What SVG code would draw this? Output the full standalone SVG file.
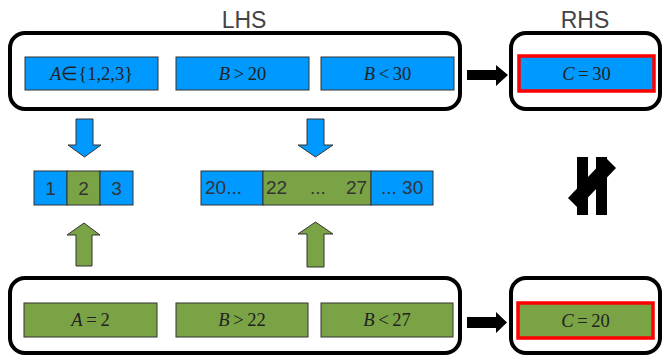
<svg xmlns="http://www.w3.org/2000/svg" width="662" height="355" viewBox="0 0 662 355">
<style>
.frame{fill:#fff;stroke:#000;stroke-width:4}
.blue{fill:#0099ff;stroke:#333;stroke-width:1}
.green{fill:#7aa345;stroke:#333;stroke-width:1}
.red{stroke:#ff0000;stroke-width:3.5}
.hdr{font-family:"Liberation Sans",Arial,sans-serif;font-size:23px;fill:#444;text-anchor:middle}
.math{font-family:"Liberation Serif","Times New Roman",serif;font-size:18.5px;fill:#222;text-anchor:middle}
.num{font-family:"Liberation Sans",Arial,sans-serif;font-size:19px;fill:#333}
.arrowB{fill:#0099ff;stroke:#333;stroke-width:1}
.arrowG{fill:#7aa345;stroke:#333;stroke-width:1}
.blk{fill:#000}
</style>
<rect width="662" height="355" fill="#fff"/>
<text class="hdr" x="244" y="28">LHS</text>
<text class="hdr" x="585" y="28">RHS</text>

<g id="lhs-top">
<rect class="frame" x="10" y="33" width="450" height="76" rx="15"/>
<g id="cA"><rect class="blue" x="25" y="57" width="133" height="33"/><text class="math" x="91.5" y="80"><tspan font-style="italic">A</tspan>∈{1,2,3}</text></g>
<g id="cB1"><rect class="blue" x="176" y="57" width="133" height="33"/><text class="math" x="242.5" y="80"><tspan font-style="italic">B</tspan>&#8201;&gt;&#8201;20</text></g>
<g id="cB2"><rect class="blue" x="321" y="57" width="133" height="33"/><text class="math" x="387.5" y="80"><tspan font-style="italic">B</tspan>&#8201;&lt;&#8201;30</text></g>
</g>
<g id="rhs-top">
<rect class="frame" x="511" y="33" width="149" height="76" rx="15"/>
<rect class="blue red" x="519" y="56" width="135" height="35"/>
<text class="math" x="586.5" y="80"><tspan font-style="italic">C</tspan>&#8201;=&#8201;30</text>
</g>

<g id="lhs-bottom">
<rect class="frame" x="10" y="278" width="450" height="75" rx="15"/>
<g id="dA"><rect class="green" x="24" y="303" width="133" height="34"/><text class="math" x="90.5" y="326"><tspan font-style="italic">A</tspan>&#8201;=&#8201;2</text></g>
<g id="dB1"><rect class="green" x="176" y="303" width="132" height="34"/><text class="math" x="242" y="326"><tspan font-style="italic">B</tspan>&#8201;&gt;&#8201;22</text></g>
<g id="dB2"><rect class="green" x="321" y="303" width="132" height="34"/><text class="math" x="387" y="326"><tspan font-style="italic">B</tspan>&#8201;&lt;&#8201;27</text></g>
</g>
<g id="rhs-bottom">
<rect class="frame" x="511" y="278" width="149" height="75" rx="15"/>
<rect class="green red" x="518" y="303" width="135" height="35"/>
<text class="math" x="585.5" y="327"><tspan font-style="italic">C</tspan>&#8201;=&#8201;20</text>
</g>

<g id="domainA">
<rect class="blue" x="34" y="171" width="33" height="34"/>
<rect class="green" x="67" y="171" width="33" height="34"/>
<rect class="blue" x="100" y="171" width="33" height="34"/>
<text class="num" x="50.5" y="195" text-anchor="middle">1</text>
<text class="num" x="83.5" y="195" text-anchor="middle">2</text>
<text class="num" x="116.5" y="195" text-anchor="middle">3</text>
</g>
<g id="domainB">
<rect class="blue" x="201" y="171" width="62" height="34"/>
<rect class="green" x="263" y="171" width="108" height="34"/>
<rect class="blue" x="371" y="171" width="62" height="34"/>
<text class="num" x="205" y="194">20...</text>
<text class="num" x="266" y="194">22</text>
<text class="num" x="310" y="194">...</text>
<text class="num" x="346" y="194">27</text>
<text class="num" x="381" y="194">... 30</text>
</g>

<g id="connectors">
<polygon class="arrowB" points="76,119 93,119 93,145 101,145 84.5,157 68,145 76,145"/>
<polygon class="arrowB" points="307,119 324,119 324,145 333,145 315.5,157 298,145 307,145"/>
<polygon class="arrowG" points="84,223 100,235 92,235 92,266 76,266 76,235 67,235"/>
<polygon class="arrowG" points="315.5,222 333,234 324,234 324,267 307,267 307,234 298,234"/>
<polygon class="blk" points="467,70 496,70 496,65 508,75 496,86 496,80 467,80"/>
<polygon class="blk" points="467,317 496,317 496,312 507,322.5 496,333 496,328 467,328"/>
</g>

<g id="noteq">
<rect class="blk" x="577" y="157" width="11" height="58"/>
<rect class="blk" x="596" y="157" width="11" height="58"/>
<polygon class="blk" points="568,198 578,208 616,168 606,158"/>
</g>
</svg>
